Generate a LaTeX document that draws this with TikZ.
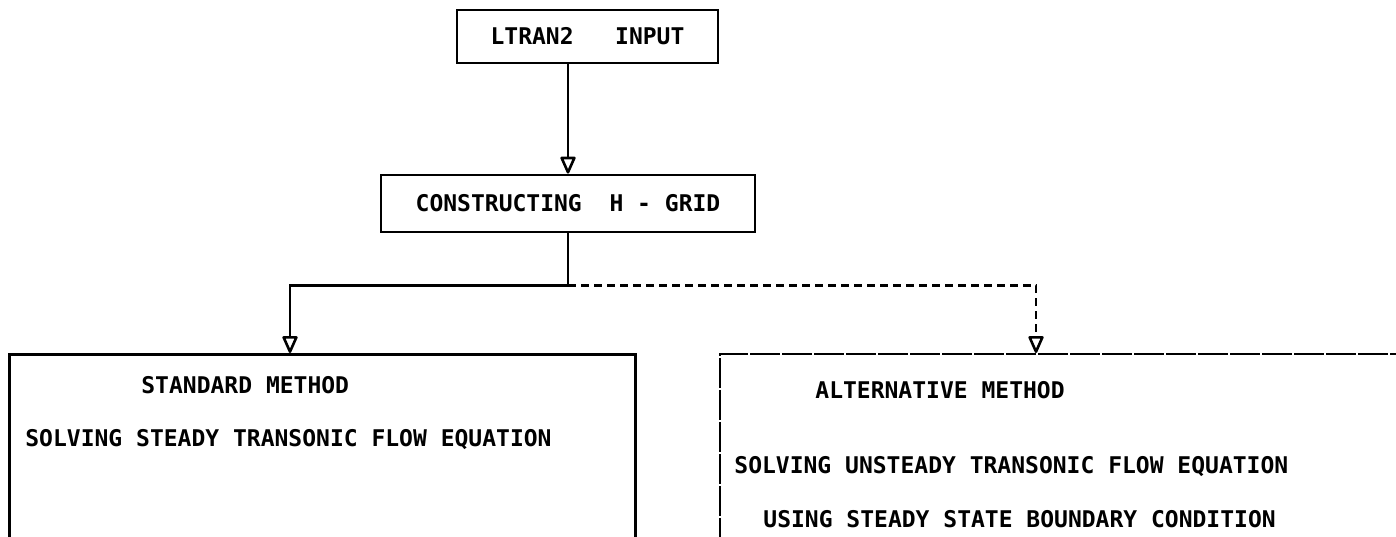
\documentclass[tikz,border=0pt]{standalone}
\usepackage{fontspec}
\newfontfamily\plotfont{DejaVu Sans Mono}
\usetikzlibrary{arrows.meta,positioning,calc}
\tikzset{every picture/.style={line width=2.8pt}}
\tikzset{
  box/.style={draw, rectangle, inner sep=0pt, font=\plotfont\bfseries\fontsize{23}{23}\selectfont},
  altbox/.style={box, line width=1.8pt, dash pattern=on 30pt off 2pt},
  lbl/.style={anchor=west, inner sep=0pt, font=\plotfont\bfseries\fontsize{23}{23}\selectfont},
  flow/.style={-{Triangle[open,length=19pt,width=16pt,line width=2.6pt,round]}},
}

\begin{document}
\begin{tikzpicture}[x=1pt,y=-1pt]
    \useasboundingbox (0,0) rectangle (1396,536);
    \clip (0,0) rectangle (1396,536);

    % top boxes
    \node[box, minimum width=261pt, minimum height=53pt] (input) at (587.5,36.5) {LTRAN2~~~INPUT};
    \node[box, minimum width=374pt, minimum height=57pt] (grid) at (568,203.5) {CONSTRUCTING~~H~-~GRID};

    % the two methods
    \node[box, anchor=north west, minimum width=626pt, minimum height=220pt] (standard) at (8,353) {};
    \node[altbox, anchor=north west, minimum width=720pt, minimum height=220pt] (alternative) at (719,353) {};

    % texts inside the method boxes
    \node[lbl] (stdname) at (140,385) {STANDARD METHOD};
    \node[lbl] (stdtext) at (24,440) {SOLVING STEADY TRANSONIC FLOW EQUATION};
    \node[lbl] (altname) at (814,390) {ALTERNATIVE METHOD};
    \node[lbl] (alttext) at (733,467) {SOLVING UNSTEADY TRANSONIC FLOW EQUATION};
    \node[lbl] (altbc) at (762,519) {USING STEADY STATE BOUNDARY CONDITION};

    % connectors
    \coordinate (split) at ($(grid.south)+(0,52)$);
    \coordinate (stdin) at ($(standard.north west)+(282,0)$);
    \coordinate (altin) at ($(alternative.north west)+(317,0)$);
    \draw[flow] (grid.north |- input.south) -- (grid.north);
    \draw (grid.south) -- (split);
    \draw[flow] (split) -| (stdin);
    \draw[flow, dash pattern=on 8pt off 5pt] (split) -| (altin);
\end{tikzpicture}
\end{document}
